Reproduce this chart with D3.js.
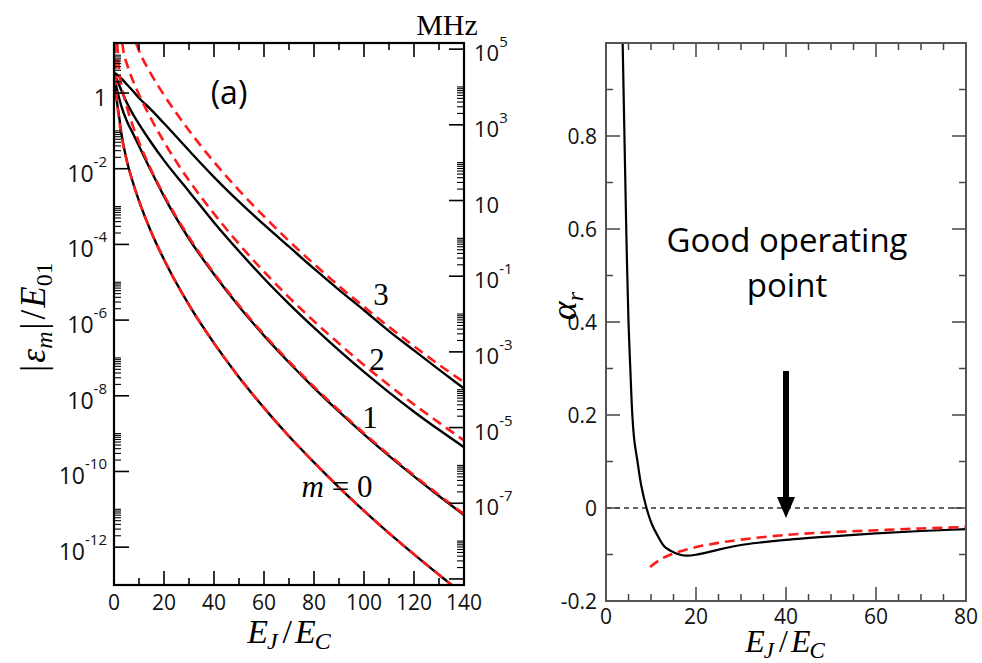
<!DOCTYPE html>
<html><head><meta charset="utf-8">
<script src="https://cdn.jsdelivr.net/npm/d3@7"></script>
<style>body{margin:0;background:#fff} svg{display:block}</style>
</head><body>
<svg id="c" width="982" height="663"></svg>
<script>
// ---------------- DATA ----------------
// Left panel: charge dispersion |eps_m|/E01 (values stored as log10)
const xTicksLeft = [0, 20, 40, 60, 80, 100, 120, 140];
const yExpLeft = [0, -2, -4, -6, -8, -10, -12];
const yExpMHz = [5, 3, 1, -1, -3, -5, -7];

const ejBlack = [0, 0.5, 1, 2, 3, 5, 7.5, 10, 15, 20, 30, 40, 50, 60, 70, 80, 90, 100, 110, 120, 130, 140];
const black0Log = [0.4, 0.1, -0.15, -0.6, -1.08, -1.75, -2.35, -2.85, -3.69, -4.40, -5.60, -6.61, -7.51, -8.32, -9.07, -9.76, -10.42, -11.04, -11.63, -12.19, -12.73, -13.26];
const black1Log = [0.45, 0.3, 0.15, -0.12, -0.36, -0.72, -1.06, -1.4, -2.08, -2.73, -3.85, -4.79, -5.64, -6.41, -7.12, -7.79, -8.42, -9.02, -9.59, -10.13, -10.65, -11.15];
const black2Log = [0.5, 0.44, 0.38, 0.22, 0.06, -0.24, -0.55, -0.82, -1.32, -1.78, -2.6, -3.42, -4.18, -4.9, -5.57, -6.2, -6.8, -7.37, -7.91, -8.42, -8.9, -9.36];
const black3Log = [0.55, 0.52, 0.5, 0.44, 0.38, 0.24, 0.06, -0.13, -0.45, -0.8, -1.52, -2.22, -2.87, -3.48, -4.06, -4.64, -5.2, -5.74, -6.29, -6.8, -7.31, -7.81];

const red0EJ = [0.45, 0.6, 0.8, 1, 1.5, 2, 3, 5, 7.5, 10, 15, 20, 30, 40, 50, 60, 70, 80, 90, 100, 110, 120, 130, 140];
const red0Log = [1.32, 0.75, 0.28, -0.02, -0.42, -0.7, -1.13, -1.76, -2.35, -2.85, -3.69, -4.40, -5.60, -6.61, -7.51, -8.32, -9.07, -9.76, -10.42, -11.04, -11.63, -12.19, -12.73, -13.26];
const red1EJ = [1.3, 1.6, 2, 3, 5, 7.5, 10, 15, 20, 30, 40, 50, 60, 70, 80, 90, 100, 110, 120, 130, 140];
const red1Log = [1.32, 0.95, 0.62, 0.2, -0.34, -0.86, -1.30, -2.05, -2.70, -3.81, -4.76, -5.61, -6.38, -7.09, -7.76, -8.39, -8.99, -9.56, -10.10, -10.62, -11.13];
const red2EJ = [3.3, 4, 5, 7.5, 10, 15, 20, 30, 40, 50, 60, 70, 80, 90, 100, 110, 120, 130, 140];
const red2Log = [1.32, 1.02, 0.8, 0.34, -0.04, -0.70, -1.29, -2.31, -3.19, -3.99, -4.72, -5.40, -6.03, -6.62, -7.19, -7.72, -8.23, -8.71, -9.18];
const red3EJ = [8.8, 10, 15, 20, 30, 40, 50, 60, 70, 80, 90, 100, 110, 120, 130, 140];
const red3Log = [1.32, 1.12, 0.48, -0.05, -0.99, -1.82, -2.57, -3.26, -3.91, -4.52, -5.10, -5.65, -6.18, -6.69, -7.18, -7.64];

const curveLabels = ["3", "2", "1"];

// Right panel: relative anharmonicity alpha_r
const xTicksRight = [0, 20, 40, 60, 80];
const yTicksRight = [-0.2, 0, 0.2, 0.4, 0.6, 0.8];
const ejAlphaExact = [3.7, 4.1, 4.5, 5.0, 5.4, 5.85, 6.3, 7.0, 7.8, 9.0, 10.2, 11.5, 13.0, 15.0, 16.5, 18, 20, 22.5, 25, 30, 35, 40, 50, 60, 70, 80];
const alphaExact = [1.0, 0.8, 0.6, 0.4, 0.3, 0.2, 0.145, 0.1, 0.05, 0.0, -0.035, -0.06, -0.083, -0.095, -0.1005, -0.1025, -0.1005, -0.0955, -0.0895, -0.0795, -0.0735, -0.0685, -0.061, -0.0545, -0.0495, -0.0455];
const ejAlphaApprox = [9.8, 12, 15, 20, 25, 30, 40, 50, 60, 70, 80];
const alphaApprox = [-0.127, -0.111, -0.098, -0.084, -0.075, -0.068, -0.058, -0.052, -0.048, -0.044, -0.041];
const operatingPoint = 40;

// ---------------- DRAW ----------------
const svg = d3.select("#c");
svg.append("rect").attr("width", 982).attr("height", 663).attr("fill", "#fff");
const SANS = "'Open Sans', 'Noto Sans', sans-serif";
const SERIF = "'Liberation Serif', 'DejaVu Serif', serif";

// ===== LEFT PANEL =====
const xL = d3.scaleLinear().domain([0, 140]).range([114, 464]);
const yL = d3.scaleLog().domain([1e-13, Math.pow(10, 1.322)]).range([585, 43]);
const MHZ = Math.pow(10, 3.84);
const yM = d3.scaleLog().domain(yL.domain().map(d => d * MHZ)).range([585, 43]);

svg.append("clipPath").attr("id", "clipL").append("rect")
  .attr("x", 114).attr("y", 43).attr("width", 350).attr("height", 542);

const gL = svg.append("g");
const lineL = d3.line().x(d => xL(d[0])).y(d => yL(Math.pow(10, d[1]))).curve(d3.curveMonotoneX);
const curvesG = gL.append("g").attr("clip-path", "url(#clipL)");
[black0Log, black1Log, black2Log, black3Log].forEach(arr => {
  curvesG.append("path").attr("d", lineL(ejBlack.map((x, i) => [x, arr[i]])))
    .attr("fill", "none").attr("stroke", "#000").attr("stroke-width", 2.4);
});
[[red0EJ, red0Log], [red1EJ, red1Log], [red2EJ, red2Log], [red3EJ, red3Log]].forEach(([xs, ys]) => {
  curvesG.append("path").attr("d", lineL(xs.map((x, i) => [x, ys[i]])))
    .attr("fill", "none").attr("stroke", "#ff1a1a").attr("stroke-width", 2.6)
    .attr("stroke-dasharray", "10,6");
});

// ticks
const tk = gL.append("g").attr("stroke", "#000").attr("stroke-width", 1.6);
d3.range(0, 141, 10).forEach(v => {
  const len = v % 20 === 0 ? 14 : 7;
  tk.append("line").attr("x1", xL(v)).attr("x2", xL(v)).attr("y1", 585).attr("y2", 585 - len);
  tk.append("line").attr("x1", xL(v)).attr("x2", xL(v)).attr("y1", 43).attr("y2", 43 + len);
});
for (let e = -13; e <= 1; e++) {
  const base = Math.pow(10, e);
  if (e % 2 === 0) {
    tk.append("line").attr("x1", 114).attr("x2", 129).attr("y1", yL(base)).attr("y2", yL(base));
    for (let k = 2; k <= 10; k++) {
      const v = k * base;
      if (v > yL.domain()[1]) continue;
      tk.append("line").attr("x1", 114).attr("x2", 121).attr("y1", yL(v)).attr("y2", yL(v)).attr("stroke-width", 1.1);
    }
  }
}
for (let e = -10; e <= 6; e++) {
  const base = Math.pow(10, e);
  if (Math.abs(e % 2) === 1) {
    if (base >= yM.domain()[0] && base <= yM.domain()[1])
      tk.append("line").attr("x1", 464).attr("x2", 449).attr("y1", yM(base)).attr("y2", yM(base));
    for (let k = 2; k <= 10; k++) {
      const v = k * base;
      if (v > yM.domain()[1] || v < yM.domain()[0]) continue;
      tk.append("line").attr("x1", 464).attr("x2", 457).attr("y1", yM(v)).attr("y2", yM(v)).attr("stroke-width", 1.1);
    }
  }
}
gL.append("rect").attr("x", 114).attr("y", 43).attr("width", 350).attr("height", 542)
  .attr("fill", "none").attr("stroke", "#000").attr("stroke-width", 2.2);

// tick labels
const lab = gL.append("g").attr("font-family", SANS).attr("fill", "#111");
xTicksLeft.forEach(v => {
  lab.append("text").attr("x", xL(v)).attr("y", 610).attr("text-anchor", "middle")
    .attr("font-size", 21).text(v);
});
yExpLeft.forEach(e => {
  const y = yL(Math.pow(10, e));
  const t = lab.append("text").attr("x", 107).attr("y", y + 13).attr("text-anchor", "end").attr("font-size", 23);
  if (e === 0) { t.text("1"); }
  else {
    t.append("tspan").text("10");
    t.append("tspan").attr("font-size", 15).attr("dy", -15).text(e);
  }
});
yExpMHz.forEach(e => {
  const y = yM(Math.pow(10, e));
  const t = lab.append("text").attr("x", 474).attr("y", y + 12).attr("font-size", 22);
  t.append("tspan").text("10");
  if (e !== 1) t.append("tspan").attr("font-size", 15).attr("dy", -14).text(e);
});

// annotations
gL.append("text").attr("x", 447).attr("y", 35).attr("text-anchor", "middle")
  .attr("font-family", SERIF).attr("font-size", 30).text("MHz");
gL.append("text").attr("x", 229).attr("y", 104).attr("text-anchor", "middle")
  .attr("font-family", SANS).attr("font-size", 32).text("(a)");
const clPos = [[381, 305], [377, 370], [370, 428]];
curveLabels.forEach((s, i) => {
  gL.append("text").attr("x", clPos[i][0]).attr("y", clPos[i][1]).attr("text-anchor", "middle")
    .attr("font-family", SERIF).attr("font-size", 31).text(s);
});
const m0 = gL.append("text").attr("x", 337).attr("y", 497).attr("text-anchor", "middle")
  .attr("font-family", SERIF).attr("font-size", 31);
m0.append("tspan").attr("font-style", "italic").text("m");
m0.append("tspan").text(" = 0");

// axis title helper: E_J / E_C
function ejec(sel, x, y, fs, sub) {
  const t = sel.append("text").attr("x", x).attr("y", y).attr("text-anchor", "middle")
    .attr("font-family", SERIF).attr("font-size", fs).attr("font-style", "italic");
  t.append("tspan").text("E");
  t.append("tspan").attr("font-size", sub).attr("dy", 6).attr("dx", -1).text("J");
  t.append("tspan").attr("dy", -6).attr("dx", 5).attr("font-style", "normal").text("/");
  t.append("tspan").attr("dx", 3).text("E");
  t.append("tspan").attr("font-size", sub).attr("dy", 6).attr("dx", -1).text("C");
  return t;
}
ejec(gL, 289, 643, 34, 24);

const yt = gL.append("text").attr("transform", "translate(45,317) rotate(-90)").attr("text-anchor", "middle")
  .attr("font-family", SERIF).attr("font-size", 35);
yt.append("tspan").text("|");
yt.append("tspan").attr("dx", 2).attr("font-style", "italic").text("ε");
yt.append("tspan").attr("font-style", "italic").attr("font-size", 24).attr("dy", 7).text("m");
yt.append("tspan").attr("dy", -7).attr("dx", 2).text("|");
yt.append("tspan").attr("dx", 3).text("/");
yt.append("tspan").attr("dx", 2).attr("font-style", "italic").text("E");
yt.append("tspan").attr("font-size", 24).attr("dy", 7).text("01");

// ===== RIGHT PANEL =====
const xR = d3.scaleLinear().domain([0, 80]).range([606, 966]);
const yR = d3.scaleLinear().domain([-0.2, 1.0]).range([601, 43]);
const gR = svg.append("g");
svg.append("clipPath").attr("id", "clipR").append("rect")
  .attr("x", 606).attr("y", 43).attr("width", 360).attr("height", 558);

gR.append("line").attr("x1", xR(0)).attr("x2", xR(80)).attr("y1", yR(0)).attr("y2", yR(0))
  .attr("stroke", "#333").attr("stroke-width", 1.3).attr("stroke-dasharray", "5,4");

const lineR = d3.line().x(d => xR(d[0])).y(d => yR(d[1])).curve(d3.curveCatmullRom.alpha(0.5));
const cR = gR.append("g").attr("clip-path", "url(#clipR)");
cR.append("path").attr("d", lineR(ejAlphaExact.map((x, i) => [x, alphaExact[i]])))
  .attr("fill", "none").attr("stroke", "#000").attr("stroke-width", 2.2);
cR.append("path").attr("d", lineR(ejAlphaApprox.map((x, i) => [x, alphaApprox[i]])))
  .attr("fill", "none").attr("stroke", "#ff1a1a").attr("stroke-width", 2.6).attr("stroke-dasharray", "10,6");

const tkR = gR.append("g").attr("stroke", "#444").attr("stroke-width", 1.5);
d3.range(0, 81, 5).forEach(v => {
  const len = v % 20 === 0 ? 14 : 7;
  tkR.append("line").attr("x1", xR(v)).attr("x2", xR(v)).attr("y1", 601).attr("y2", 601 - len);
  tkR.append("line").attr("x1", xR(v)).attr("x2", xR(v)).attr("y1", 43).attr("y2", 43 + len);
});
d3.range(-2, 11, 1).forEach(i => {
  const v = i / 10;
  const len = i % 2 === 0 ? 14 : 7;
  tkR.append("line").attr("x1", 606).attr("x2", 606 + len).attr("y1", yR(v)).attr("y2", yR(v));
  tkR.append("line").attr("x1", 966).attr("x2", 966 - len).attr("y1", yR(v)).attr("y2", yR(v));
});
gR.append("rect").attr("x", 606).attr("y", 43).attr("width", 360).attr("height", 558)
  .attr("fill", "none").attr("stroke", "#555").attr("stroke-width", 2);

const labR = gR.append("g").attr("font-family", SANS).attr("fill", "#111");
xTicksRight.forEach(v => {
  labR.append("text").attr("x", xR(v)).attr("y", 624).attr("text-anchor", "middle").attr("font-size", 21).text(v);
});
yTicksRight.forEach(v => {
  labR.append("text").attr("x", 597).attr("y", yR(v) + 8).attr("text-anchor", "end").attr("font-size", 21)
    .text(v === 0 ? "0" : v.toFixed(1));
});

ejec(gR, 785, 652, 32, 23);

const at = gR.append("text").attr("transform", "translate(576,306) rotate(-90)").attr("text-anchor", "middle")
  .attr("font-family", SERIF).attr("font-size", 36).attr("font-style", "italic");
at.append("tspan").text("α");
at.append("tspan").attr("font-size", 24).attr("dy", 7).text("r");

// annotation
gR.append("text").attr("x", 787).attr("y", 252).attr("text-anchor", "middle")
  .attr("font-family", SANS).attr("font-size", 33).text("Good operating");
gR.append("text").attr("x", 787).attr("y", 297).attr("text-anchor", "middle")
  .attr("font-family", SANS).attr("font-size", 33).text("point");
const ax = xR(operatingPoint);
gR.append("line").attr("x1", ax).attr("x2", ax).attr("y1", 371).attr("y2", 500)
  .attr("stroke", "#000").attr("stroke-width", 6);
gR.append("path").attr("d", `M${ax - 9},497 L${ax + 9},497 L${ax},518 Z`).attr("fill", "#000");
</script>
</body></html>
